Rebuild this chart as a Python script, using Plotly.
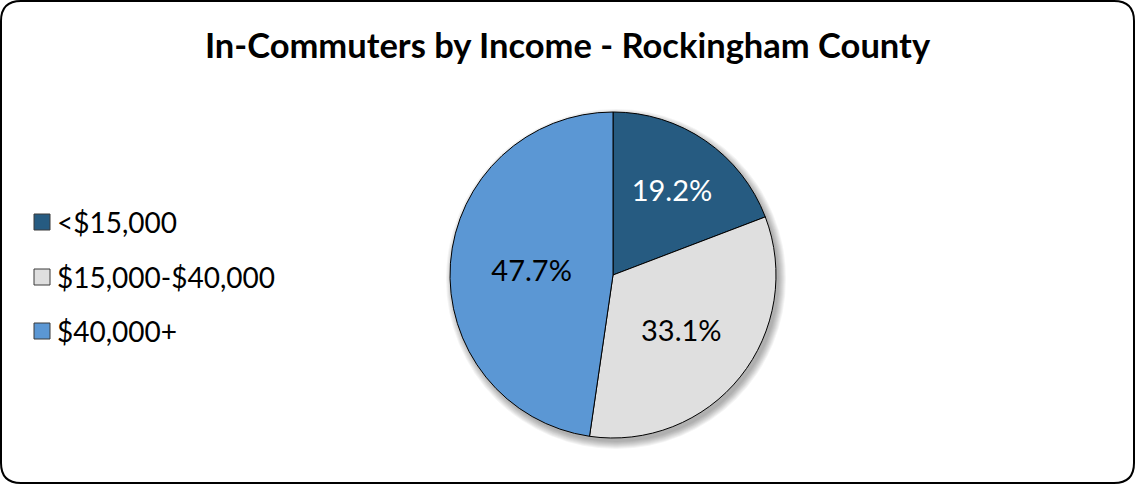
import plotly.graph_objects as go

# Income bands and share of in-commuters (%)
categories = ["<$15,000", "$15,000-$40,000", "$40,000+"]
shares = [19.2, 33.1, 47.7]
colors = ["#265B81", "#DFDFDF", "#5B97D4"]
label_colors = ["white", "black", "black"]

W, H = 1135, 484
FONT = "Lato"

# pie placement in pixels
cx, cy, r = 613, 275, 163


def px(x):
    return x / W


def py(y):
    return 1 - y / H


fig = go.Figure()
fig.add_trace(go.Pie(
    labels=categories,
    values=shares,
    sort=False,
    direction="clockwise",
    rotation=0,
    marker=dict(colors=colors, line=dict(color="black", width=1)),
    texttemplate="%{value:.1f}%",
    textposition="inside",
    insidetextorientation="horizontal",
    textfont=dict(family=FONT, size=29, color=label_colors),
    domain=dict(x=[px(cx - r), px(cx + r)], y=[py(cy + r), py(cy - r)]),
    showlegend=False,
    hoverinfo="label+percent",
))

shapes = []

# soft drop shadow behind the pie
for i in range(8):
    rr = r + 7 - i
    ox, oy = 3, 4
    shapes.append(dict(
        type="circle", xref="paper", yref="paper", layer="below",
        x0=px(cx + ox - rr), x1=px(cx + ox + rr),
        y0=py(cy + oy + rr), y1=py(cy + oy - rr),
        fillcolor="rgba(0,0,0,0.045)", line=dict(width=0),
    ))

# rounded outer frame
x0, y0, x1, y1, c = 1, 1, W - 1, H - 1, 20
path = (
    f"M {px(x0 + c)},{py(y0)} L {px(x1 - c)},{py(y0)} "
    f"Q {px(x1)},{py(y0)} {px(x1)},{py(y0 + c)} "
    f"L {px(x1)},{py(y1 - c)} Q {px(x1)},{py(y1)} {px(x1 - c)},{py(y1)} "
    f"L {px(x0 + c)},{py(y1)} Q {px(x0)},{py(y1)} {px(x0)},{py(y1 - c)} "
    f"L {px(x0)},{py(y0 + c)} Q {px(x0)},{py(y0)} {px(x0 + c)},{py(y0)} Z"
)
shapes.append(dict(type="path", xref="paper", yref="paper", path=path,
                   line=dict(color="black", width=2), layer="above"))

# legend: swatches and labels
annotations = []
legend_y = [222, 277, 331]
for name, col, ly in zip(categories, colors, legend_y):
    shapes.append(dict(
        type="rect", xref="paper", yref="paper",
        x0=px(34), x1=px(50), y0=py(ly + 8), y1=py(ly - 8),
        fillcolor=col, line=dict(color="#3A3A3A", width=1),
    ))
    annotations.append(dict(
        text=name, xref="paper", yref="paper", x=px(55), y=py(ly),
        xanchor="left", yanchor="middle", showarrow=False,
        font=dict(family=FONT, size=28, color="black"),
    ))

fig.update_layout(
    width=W, height=H,
    margin=dict(l=0, r=0, t=0, b=0),
    paper_bgcolor="white",
    plot_bgcolor="white",
    title=dict(
        text="<b>In-Commuters by Income - Rockingham County</b>",
        x=0.5, xanchor="center", xref="paper",
        y=py(46), yanchor="middle", yref="paper",
        font=dict(family=FONT, size=34.5, color="black"),
    ),
    shapes=shapes,
    annotations=annotations,
    showlegend=False,
)

fig.write_html("out.html")
